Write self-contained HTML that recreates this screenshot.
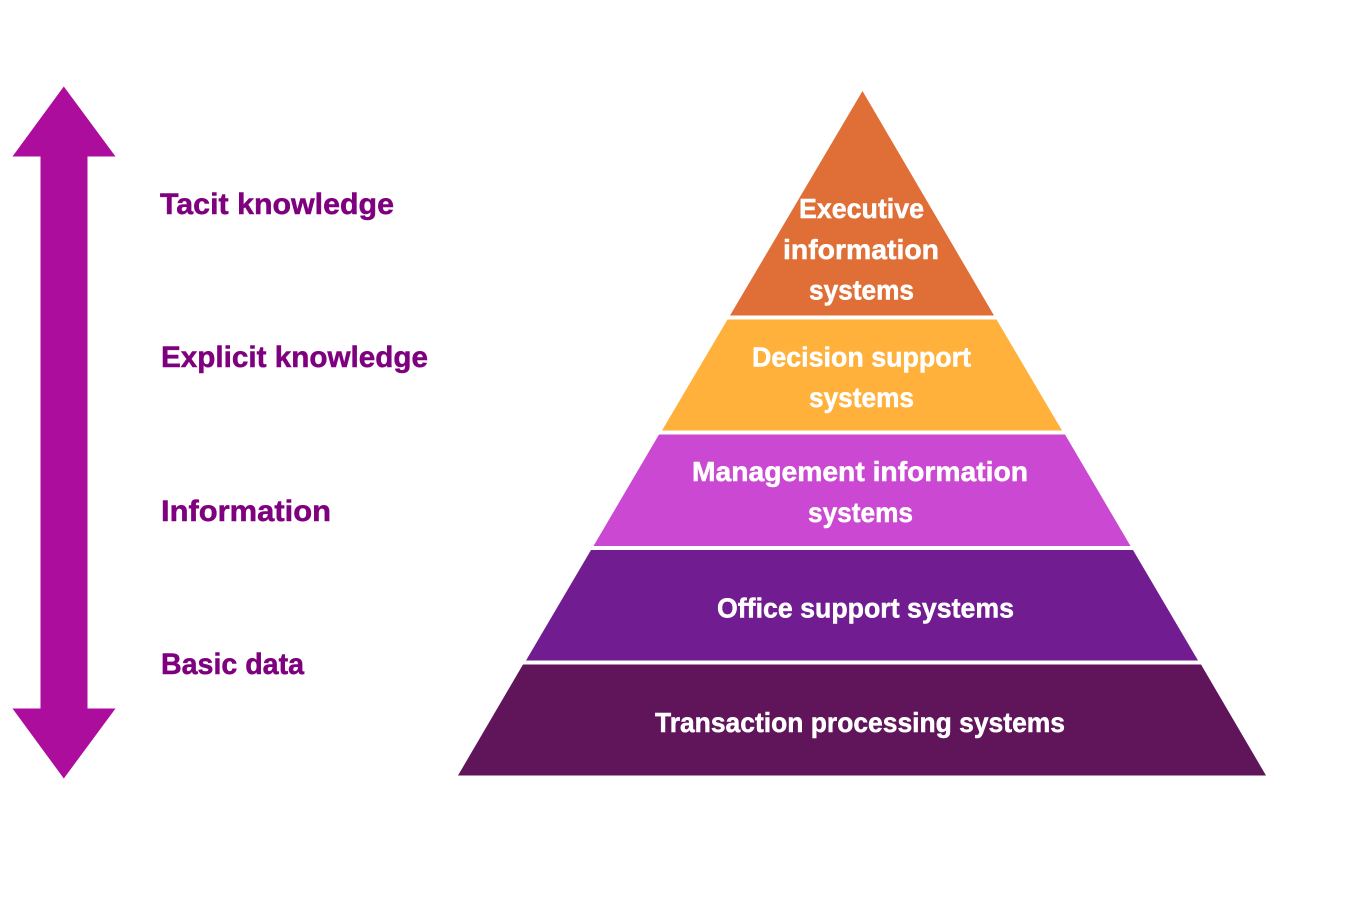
<!DOCTYPE html>
<html lang="en">
<head>
<meta charset="utf-8">
<title>Pyramid diagram</title>
<style>
html,body{margin:0;padding:0;background:#fff;width:1350px;height:900px;overflow:hidden}
svg{display:block}
text{font-family:"Liberation Sans",sans-serif;font-weight:bold}
.l{font-size:30px;fill:#7e007e;stroke:#7e007e;stroke-width:.5px}
.w{font-size:28px;fill:#fff;stroke:#fff;stroke-width:.5px}
</style>
</head>
<body>
<svg width="1350" height="900" viewBox="0 0 1350 900" xmlns="http://www.w3.org/2000/svg">
<rect width="1350" height="900" fill="#fff"/>
<polygon fill="#ac0d9c" points="63.8,86.5 115.5,156.5 87.5,156.5 87.5,708.5 115.5,708.5 63.8,778.5 12.5,708.5 40.5,708.5 40.5,156.5 12.5,156.5"/>
<polygon fill="#e06f37" points="862.5,91 994,315.5 730,315.5"/>
<polygon fill="#ffb13b" points="727.5,319.5 996.5,319.5 1062,430.5 662,430.5"/>
<polygon fill="#cb49d2" points="659,434.5 1065,434.5 1130.5,546 593.5,546"/>
<polygon fill="#711c91" points="591,550 1133,550 1198,660.5 526,660.5"/>
<polygon fill="#60145a" points="523,664.5 1201,664.5 1266,775.5 458,775.5"/>
<text class="l" x="160" y="214" textLength="234" lengthAdjust="spacingAndGlyphs">Tacit knowledge</text>
<text class="l" x="161" y="367" textLength="267" lengthAdjust="spacingAndGlyphs">Explicit knowledge</text>
<text class="l" x="161" y="521" textLength="170" lengthAdjust="spacingAndGlyphs">Information</text>
<text class="l" x="161" y="674" textLength="143" lengthAdjust="spacingAndGlyphs">Basic data</text>
<text class="w" x="799" y="218" textLength="125" lengthAdjust="spacingAndGlyphs">Executive</text>
<text class="w" x="783" y="259" textLength="156" lengthAdjust="spacingAndGlyphs">information</text>
<text class="w" x="809" y="299.5" textLength="105" lengthAdjust="spacingAndGlyphs">systems</text>
<text class="w" x="752" y="366.5" textLength="219" lengthAdjust="spacingAndGlyphs">Decision support</text>
<text class="w" x="809" y="407" textLength="105" lengthAdjust="spacingAndGlyphs">systems</text>
<text class="w" x="692" y="481" textLength="336" lengthAdjust="spacingAndGlyphs">Management information</text>
<text class="w" x="808" y="522" textLength="105" lengthAdjust="spacingAndGlyphs">systems</text>
<text class="w" x="717" y="617.5" textLength="297" lengthAdjust="spacingAndGlyphs">Office support systems</text>
<text class="w" x="655" y="732" textLength="410" lengthAdjust="spacingAndGlyphs">Transaction processing systems</text>
</svg>
</body>
</html>
